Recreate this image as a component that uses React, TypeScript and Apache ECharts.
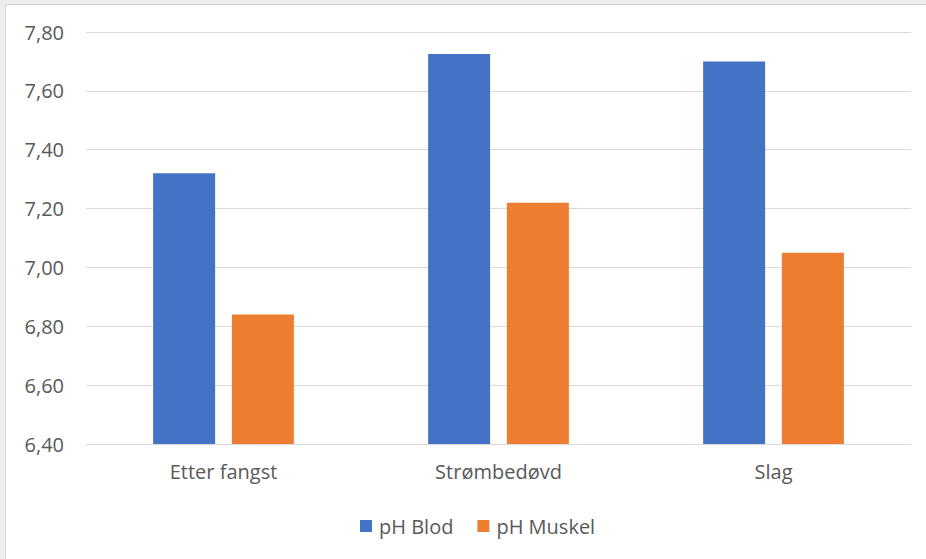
import React, { useEffect, useRef } from "react";
import * as echarts from "echarts";

const categories = ["Etter fangst", "Strømbedøvd", "Slag"];
const phBlod = [7.32, 7.725, 7.70];
const phMuskel = [6.84, 7.22, 7.05];
const seriesNames = ["pH Blod", "pH Muskel"];
const yMin = 6.4;
const yMax = 7.8;
const yStep = 0.2;

const FONT = "'Open Sans', 'Noto Sans', sans-serif";
const LABEL = "#595959";

export default function App() {
  const ref = useRef<HTMLDivElement>(null);
  useEffect(() => {
    document.body.style.margin = "0";
    const chart = echarts.init(ref.current!, undefined, { renderer: "svg" });
    chart.setOption({
      animation: false,
      backgroundColor: "#ffffff",
      textStyle: { fontFamily: FONT },
      graphic: [
        { type: "rect", shape: { x: 0, y: 0, width: 926, height: 4 }, style: { fill: "#eceef0" }, silent: true },
        { type: "rect", shape: { x: 0, y: 0, width: 5, height: 559 }, style: { fill: "#eceef0" }, silent: true },
        { type: "line", shape: { x1: 5.5, y1: 4, x2: 5.5, y2: 559 }, style: { stroke: "#d4d4d4", lineWidth: 1 }, silent: true },
        { type: "line", shape: { x1: 5, y1: 4.5, x2: 926, y2: 4.5 }, style: { stroke: "#d4d4d4", lineWidth: 1 }, silent: true },
      ],
      grid: { left: 86, right: 15, top: 32, bottom: 115, containLabel: false },
      legend: {
        data: seriesNames,
        left: 360,
        top: 516,
        padding: 0,
        itemWidth: 12,
        itemHeight: 12,
        itemGap: 24,
        icon: "rect",
        textStyle: { color: LABEL, fontSize: 20, fontFamily: FONT, padding: [0, 0, 0, 2] },
      },
      xAxis: {
        type: "category",
        data: categories,
        axisLine: { lineStyle: { color: "#d9d9d9", width: 1 } },
        axisTick: { show: false },
        axisLabel: { color: LABEL, fontSize: 20, margin: 17, fontFamily: FONT },
      },
      yAxis: {
        type: "value",
        min: yMin,
        max: yMax,
        interval: yStep,
        axisLine: { show: false },
        axisTick: { show: false },
        splitLine: { lineStyle: { color: "#d9d9d9", width: 1 } },
        axisLabel: {
          color: LABEL,
          fontSize: 20,
          margin: 22,
          fontFamily: FONT,
          formatter: (v: number) => v.toFixed(2).replace(".", ","),
        },
      },
      series: [
        {
          name: seriesNames[0],
          type: "bar",
          data: phBlod,
          barWidth: 62,
          barGap: "27%",
          itemStyle: { color: "#4472C4" },
        },
        {
          name: seriesNames[1],
          type: "bar",
          data: phMuskel,
          barWidth: 62,
          barGap: "27%",
          itemStyle: { color: "#ED7D31" },
        },
      ],
    });
    return () => chart.dispose();
  }, []);
  return <div ref={ref} style={{ width: 926, height: 559 }} />;
}
